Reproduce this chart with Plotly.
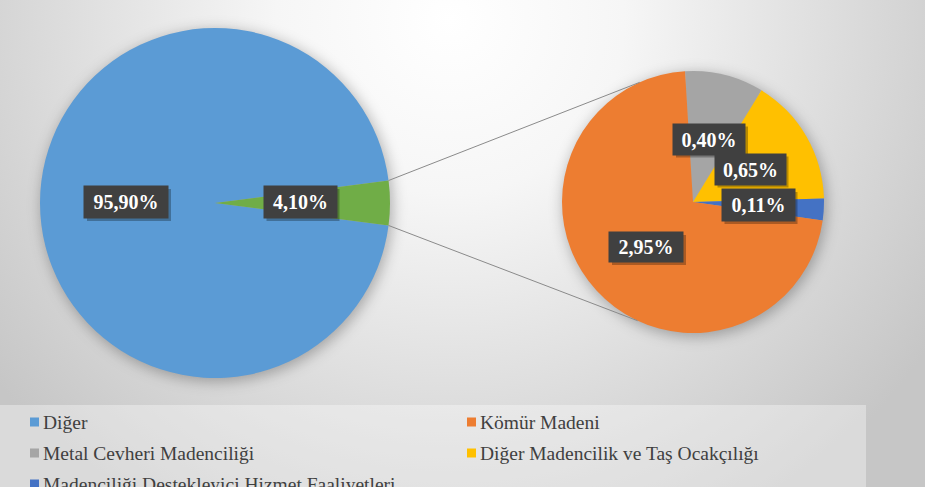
import base64, math
import plotly.graph_objects as go

# ---- data ----
main_labels = ["Diğer", "Madencilik"]
main_values = [95.90, 4.10]
sub_labels = ["Metal Cevheri Madenciliği", "Diğer Madencilik ve Taş Ocakçılığı",
              "Madenciliği Destekleyici Hizmet Faaliyetleri", "Kömür Madeni"]
sub_values = [0.40, 0.65, 0.11, 2.95]
legend_order = ["Diğer", "Kömür Madeni", "Metal Cevheri Madenciliği",
                "Diğer Madencilik ve Taş Ocakçılığı",
                "Madenciliği Destekleyici Hizmet Faaliyetleri"]

W, H = 925, 487
colors = {
    "Diğer": "#5B9BD5",
    "Madencilik": "#70AD47",
    "Kömür Madeni": "#ED7D31",
    "Metal Cevheri Madenciliği": "#A5A5A5",
    "Diğer Madencilik ve Taş Ocakçılığı": "#FFC000",
    "Madenciliği Destekleyici Hizmet Faaliyetleri": "#4472C4",
}
FONT = "Liberation Serif"

# geometry (pixels)
L_CX, L_CY, L_R = 215, 203, 175
R_CX, R_CY, R_R = 693, 202, 131


def px(x):
    return x / W


def py(y):
    return 1 - y / H


def fmt(v):
    return f"{v:.2f}".replace(".", ",") + "%"


green_half = main_values[1] / sum(main_values) * 360 / 2

fig = go.Figure()
fig.add_trace(go.Pie(
    labels=main_labels, values=main_values, sort=False, direction="clockwise",
    rotation=90 + green_half,
    marker=dict(colors=[colors[l] for l in main_labels], line=dict(width=0)),
    textinfo="none", hoverinfo="label+value", showlegend=False,
    domain=dict(x=[px(L_CX - L_R), px(L_CX + L_R)], y=[py(L_CY + L_R), py(L_CY - L_R)]),
))
fig.add_trace(go.Pie(
    labels=sub_labels, values=sub_values, sort=False, direction="clockwise",
    rotation=-3.5,
    marker=dict(colors=[colors[l] for l in sub_labels], line=dict(width=0)),
    textinfo="none", hoverinfo="label+value", showlegend=False,
    domain=dict(x=[px(R_CX - R_R), px(R_CX + R_R)], y=[py(R_CY + R_R), py(R_CY - R_R)]),
))

# background gradient + soft pie shadows
svg = f'''<svg xmlns="http://www.w3.org/2000/svg" width="{W}" height="{H}" viewBox="0 0 {W} {H}">
<defs>
<radialGradient id="g" gradientUnits="userSpaceOnUse" cx="450" cy="20" r="580">
<stop offset="0" stop-color="#ffffff"/>
<stop offset="0.3" stop-color="#f6f6f6"/>
<stop offset="1" stop-color="#c6c6c6"/>
</radialGradient>
<filter id="b" x="-30%" y="-30%" width="160%" height="160%"><feGaussianBlur stdDeviation="7"/></filter>
</defs>
<rect width="{W}" height="{H}" fill="url(#g)"/>
<circle cx="{L_CX+2}" cy="{L_CY+3}" r="{L_R+1}" fill="#000" fill-opacity="0.28" filter="url(#b)"/>
<circle cx="{R_CX+2}" cy="{R_CY+3}" r="{R_R+1}" fill="#000" fill-opacity="0.28" filter="url(#b)"/>
</svg>'''
src = "data:image/svg+xml;base64," + base64.b64encode(svg.encode()).decode()

shapes = []
annotations = []

# legend box
shapes.append(dict(type="rect", xref="paper", yref="paper", x0=px(0), x1=px(866),
                   y0=py(487), y1=py(405), fillcolor="rgba(255,255,255,0.35)",
                   line=dict(width=0), layer="below"))

# connector lines
a = math.radians(green_half)
gx = L_CX + L_R * math.cos(a)
gy_top = L_CY - L_R * math.sin(a)
gy_bot = L_CY + L_R * math.sin(a)
t_top = math.radians(-24)   # angle from 12 o'clock on the sub pie
t_bot = math.radians(205)
rtx, rty = R_CX + R_R * math.sin(t_top), R_CY - R_R * math.cos(t_top)
rbx, rby = R_CX + R_R * math.sin(t_bot), R_CY - R_R * math.cos(t_bot)
for (x0, y0, x1, y1) in [(gx, gy_top, rtx, rty), (gx, gy_bot, rbx, rby)]:
    shapes.append(dict(type="line", xref="paper", yref="paper", x0=px(x0), y0=py(y0),
                       x1=px(x1), y1=py(y1), line=dict(color="#8a8a8a", width=1)))

# data labels (center x, center y, box width, box height)
label_pos = [
    (main_values[0], 126, 202, 84, 32),
    (main_values[1], 300, 202, 73, 32),
    (sub_values[0], 709, 139, 72, 31),
    (sub_values[1], 750, 169, 71, 31),
    (sub_values[2], 758, 205, 73, 32),
    (sub_values[3], 646, 247, 74, 30),
]
pad = 3
for v, cx, cy, bw, bh in label_pos:
    shapes.append(dict(type="rect", xref="paper", yref="paper",
                       x0=px(cx - bw / 2 + 3), x1=px(cx + bw / 2 + 3),
                       y0=py(cy + bh / 2 + 3), y1=py(cy - bh / 2 + 3),
                       fillcolor="rgba(0,0,0,0.28)", line=dict(width=0)))
    annotations.append(dict(x=px(cx), y=py(cy), xref="paper", yref="paper",
                            text=f"<b>{fmt(v)}</b>", showarrow=False,
                            xanchor="center", yanchor="middle",
                            width=bw - 2 * pad, height=bh - 2 * pad, borderpad=pad,
                            bgcolor="#404040",
                            font=dict(family=FONT, size=20, color="white")))

# legend
legend_cells = [(30, 422), (467, 422), (30, 453), (467, 453), (30, 484)]
for name, (lx, ly) in zip(legend_order, legend_cells):
    shapes.append(dict(type="rect", xref="paper", yref="paper",
                       x0=px(lx), x1=px(lx + 9), y0=py(ly + 4.5), y1=py(ly - 4.5),
                       fillcolor=colors[name], line=dict(width=0)))
    annotations.append(dict(x=px(lx + 11), y=py(ly), xref="paper", yref="paper",
                            text=name, showarrow=False, xanchor="left", yanchor="middle",
                            font=dict(family=FONT, size=19.5, color="#404040")))

fig.update_layout(
    width=W, height=H, margin=dict(l=0, r=0, t=0, b=0),
    paper_bgcolor="#e4e4e4", plot_bgcolor="rgba(0,0,0,0)",
    font=dict(family=FONT),
    images=[dict(source=src, xref="paper", yref="paper", x=0, y=1, sizex=1, sizey=1,
                 sizing="stretch", xanchor="left", yanchor="top", layer="below")],
    shapes=shapes, annotations=annotations, showlegend=False,
)
fig.write_html("out.html", config={"displayModeBar": False},
               post_script="document.body.style.margin='0';")
